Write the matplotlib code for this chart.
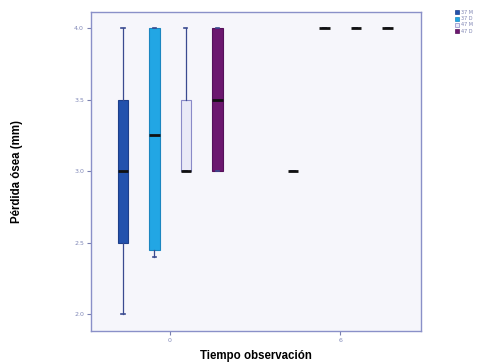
import matplotlib
matplotlib.use("Agg")
import matplotlib.pyplot as plt
from matplotlib.patches import Patch

groups = ["0", "6"]
series = ["37 M", "37 D", "47 M", "47 D"]

# per series: [group 0, group 6]
whislo = {"37 M": [2.0, 3.0], "37 D": [2.40, 4.0], "47 M": [3.0, 4.0], "47 D": [3.0, 4.0]}
q1     = {"37 M": [2.5, 3.0], "37 D": [2.45, 4.0], "47 M": [3.0, 4.0], "47 D": [3.0, 4.0]}
med    = {"37 M": [3.0, 3.0], "37 D": [3.25, 4.0], "47 M": [3.0, 4.0], "47 D": [3.5, 4.0]}
q3     = {"37 M": [3.5, 3.0], "37 D": [4.0, 4.0], "47 M": [3.5, 4.0], "47 D": [4.0, 4.0]}
whishi = {"37 M": [4.0, 3.0], "37 D": [4.0, 4.0], "47 M": [4.0, 4.0], "47 D": [4.0, 4.0]}

yticks = [2.0, 2.5, 3.0, 3.5, 4.0]

fills = {"37 M": "#2352ad", "37 D": "#22a6e4", "47 M": "#e9e9f7", "47 D": "#6c176f"}
edges = {"37 M": "#1d3f8a", "37 D": "#1b86c0", "47 M": "#8a8ac8", "47 D": "#55105a"}

fig = plt.figure(figsize=(4.91, 3.64), dpi=100)
ax = fig.add_axes([91/491, 1 - 331/364, (421-91)/491, (331-12)/364])
ax.set_facecolor("#f6f6fb")

spacing = 0.185
width = 0.062
for si, s in enumerate(series):
    off = (si - 1.5) * spacing
    for gi in range(len(groups)):
        st = [dict(whislo=whislo[s][gi], q1=q1[s][gi], med=med[s][gi],
                   q3=q3[s][gi], whishi=whishi[s][gi], fliers=[])]
        single = q1[s][gi] == q3[s][gi]
        ax.bxp(st, positions=[gi + off], widths=width, patch_artist=True,
               showfliers=False, manage_ticks=False,
               boxprops=dict(facecolor=fills[s], edgecolor=edges[s],
                             linewidth=0 if single else 0.8),
               medianprops=dict(color="#111111", linewidth=2.0),
               whiskerprops=dict(color="#3a4a90", linewidth=0.9),
               capprops=dict(color="#3a4a90", linewidth=1.2),
               capwidths=0.02)

ax.set_xlim(-0.465, 1.476)
ax.set_ylim(1.881, 4.114)
ax.set_xticks(range(len(groups)))
ax.set_xticklabels(groups)
ax.set_yticks(yticks)
ax.set_yticklabels([f"{v:.1f}" for v in yticks])
ax.tick_params(axis="both", labelsize=4.5, colors="#7a80b0", length=3, width=0.8,
               labelcolor="#8088b8", pad=2)
for sp in ax.spines.values():
    sp.set_color("#8a90c8")
    sp.set_linewidth(1.0)

ax.set_xlabel("Tiempo observación", fontsize=8.3, fontweight="bold", labelpad=5,
              family=["Liberation Sans", "DejaVu Sans"])
ax.set_ylabel("Pérdida ósea (mm)", fontsize=8.3, fontweight="bold",
              family=["Liberation Sans", "DejaVu Sans"])
ax.yaxis.set_label_coords(-0.205, 0.5)

handles = [Patch(facecolor=fills[s], edgecolor=edges[s], linewidth=0.5, label=s) for s in series]
fig.legend(handles=handles, loc="upper left", bbox_to_anchor=(455/491, 1 - 10/364),
           fontsize=3.5, frameon=False, handlelength=0.9, handleheight=0.9,
           handletextpad=0.3, labelspacing=0.25, borderaxespad=0, borderpad=0,
           labelcolor="#7a80b0")

fig.savefig("out.png", dpi=100, facecolor="white")
